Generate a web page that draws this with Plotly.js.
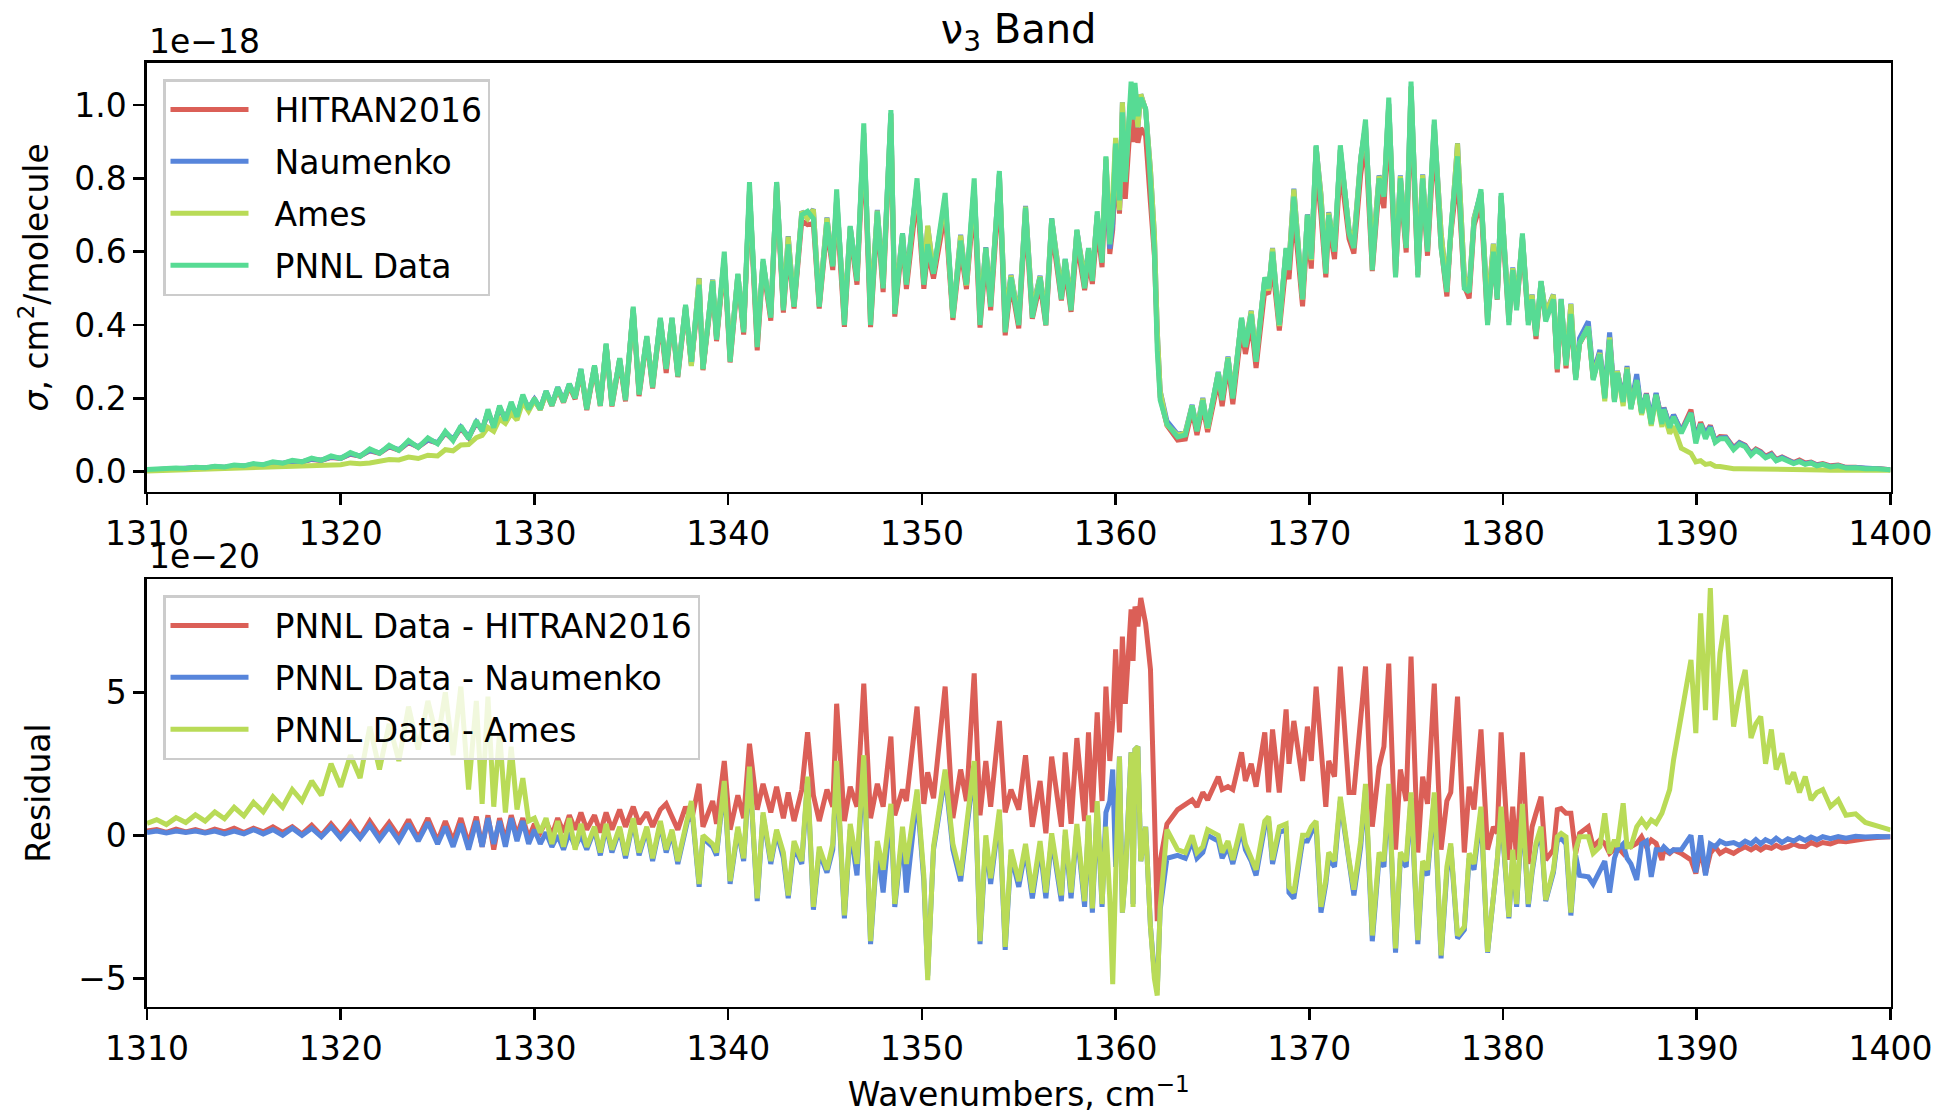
<!DOCTYPE html>
<html><head><meta charset="utf-8">
<script src="https://cdn.plot.ly/plotly-3.0.1.min.js"></script>
<style>html,body{margin:0;padding:0;background:#fff;}#chart{width:1944px;height:1114px;}</style>
</head><body><div id="chart"></div>
<script>
// Wavenumber grid (cm^-1), shared by all series
const wavenumber = [
1310,1310.5,1311,1311.5,1312,1312.5,1313,1313.5,1314,1314.5,1315,1315.5,1316,1316.5,1317,1317.5,1318,1318.5,1319,1319.5,1320,1320.5,1321,1321.5,1322,1322.5,1323,1323.5,1324,1324.5,1325,
1325.4,1325.8,1326.2,1326.6,1327.0,1327.3,1327.6,1327.9,1328.2,1328.5,1328.8,1329.1,1329.4,1329.7,1330.0,1330.3,1330.6,1330.9,1331.2,1331.5,1331.8,1332.1,1332.4,
1332.7,1333.1,1333.4,1333.7,1334.0,1334.4,1334.7,1335.1,1335.4,1335.8,1336.1,1336.5,1336.8,1337.1,1337.4,1337.8,1338.1,1338.5,1338.7,1339.2,1339.4,1339.8,1340.1,1340.5,1340.8,1341.1,1341.5,1341.8,1342.2,1342.5,1342.85,1343.1,1343.4,1343.8,1344.1,1344.4,1344.7,1345.1,1345.4,1345.6,1346.0,1346.3,1346.65,1347.0,1347.35,1347.7,1348.0,1348.4,1348.6,1349.0,1349.2,1349.75,1350.1,1350.3,1350.6,1351.2,1351.6,1352.0,1352.3,1352.7,1353.0,1353.3,1353.55,1354.0,1354.3,1354.6,1355.0,
1355.35,1355.7,1356.1,1356.4,1356.7,1357.2,1357.4,1357.7,1358.0,1358.4,1358.6,1358.8,1359.05,1359.3,1359.5,1359.7,1359.85,1360.0,1360.2,1360.35,1360.5,1360.8,1360.9,1361.0,1361.15,1361.3,1361.55,1361.8,1362.0,1362.15,1362.3,1362.65,
1363.2,1363.6,1363.95,1364.2,1364.5,1364.75,1365.3,1365.5,1365.8,1366.05,1366.5,1366.7,1367.0,1367.25,1367.7,1367.9,1368.1,1368.45,1368.8,1368.95,1369.2,1369.65,1369.9,1370.1,1370.35,1370.6,1370.85,1371.0,1371.3,1371.6,1372.05,1372.3,1372.65,1372.9,1373.25,1373.6,1373.85,1374.1,1374.45,1374.7,1375.0,1375.25,1375.6,1375.85,1376.1,1376.45,1376.8,1377.1,
1377.3,1377.65,1378.0,1378.25,1378.5,1378.86,1379.2,1379.5,1379.7,1379.9,1380.3,1380.5,1380.7,1381.0,1381.3,1381.5,1381.7,1381.96,1382.2,1382.6,1382.8,1383.0,1383.25,1383.5,1383.75,1383.95,1384.4,1384.65,1385.0,1385.25,1385.5,1385.75,1385.9,1386.2,1386.4,1386.6,1386.9,1387.15,1387.4,1387.65,1387.9,1388.2,1388.3,1388.6,1388.8,1389.2,1389.7,1389.95,1390.2,1390.45,1390.7,1390.95,1391.2,1391.5,
1391.9,1392.2,1392.5,1392.8,1393.05,1393.3,1393.55,1393.85,1394.1,1394.4,1394.7,1395.0,1395.3,1395.6,1395.9,1396.2,1396.5,1396.9,1397.3,1397.7,1398.2,1398.7,1399.3,1400.0
];

// Cross sections, units of 1e-18 cm^2/molecule
const hitranTop = [
0.0045,0.006,0.006,0.0078,0.0078,0.01,0.01,0.0128,0.0118,0.0155,0.015,0.0195,0.0178,0.024,0.022,0.028,0.0265,0.0335,0.031,0.039,0.036,0.0475,0.0425,0.057,0.05,0.0675,0.0585,0.0795,0.067,0.086,0.078,
0.105,0.087,0.119,0.093,0.1335,0.114,0.163,0.125,0.174,0.142,0.183,0.15,0.204,0.171,0.196,0.169,0.215,0.18,0.224,0.189,0.233,0.198,0.272,
0.168,0.283,0.179,0.342,0.178,0.301,0.192,0.44,0.206,0.362,0.227,0.411,0.269,0.414,0.258,0.445,0.295,0.492,0.277,0.508,0.356,0.574,0.298,0.526,0.374,0.758,0.331,0.562,0.412,0.773,0.434,0.605,0.445,0.684,0.674,0.676,0.445,0.664,0.55,0.724,0.395,0.653,0.51,0.897,0.394,0.692,0.49,0.952,0.423,0.634,0.498,0.755,0.499,0.598,0.527,0.708,0.414,0.607,0.498,0.743,0.393,0.584,0.44,0.78,0.372,0.514,0.391,
0.692,0.417,0.511,0.399,0.663,0.467,0.551,0.436,0.626,0.495,0.574,0.512,0.667,0.558,0.808,0.594,0.66,0.83,0.704,0.911,0.744,0.985,0.899,0.98,0.897,0.937,0.916,0.732,0.591,0.36,0.204,0.126,
0.086,0.089,0.168,0.10,0.18,0.108,0.25,0.179,0.293,0.184,0.391,0.321,0.405,0.283,0.494,0.485,0.563,0.385,0.566,0.525,0.71,0.451,0.662,0.554,0.838,0.699,0.53,0.674,0.58,0.831,0.635,0.595,0.81,0.901,0.547,0.776,0.719,0.96,0.535,0.777,0.598,1.0,0.536,0.78,0.589,0.907,0.615,0.478,
0.645,0.812,0.506,0.473,0.671,0.733,0.405,0.597,0.469,0.724,0.409,0.54,0.449,0.621,0.41,0.467,0.362,0.507,0.419,0.475,0.271,0.461,0.282,0.422,0.256,0.349,0.392,0.254,0.322,0.203,0.366,0.195,0.274,0.196,0.283,0.174,0.253,0.16,0.214,0.132,0.213,0.139,0.175,0.126,0.155,0.111,0.169,0.09,0.135,0.103,0.126,0.084,0.096,0.095,
0.066,0.08,0.072,0.05,0.062,0.055,0.042,0.05,0.034,0.04,0.034,0.025,0.032,0.024,0.026,0.019,0.022,0.016,0.018,0.012,0.0125,0.009,0.009,0.0055
];

const naumenkoTop = [
0.005,0.0065,0.0062,0.0085,0.008,0.0105,0.0102,0.0135,0.0125,0.0165,0.0155,0.02,0.0185,0.025,0.023,0.0285,0.027,0.0345,0.0315,0.04,0.037,0.049,0.043,0.0585,0.0515,0.069,0.06,0.081,0.068,0.0875,0.079,
0.107,0.089,0.121,0.095,0.135,0.114,0.164,0.123,0.175,0.144,0.184,0.152,0.205,0.173,0.198,0.173,0.219,0.184,0.23,0.195,0.239,0.204,0.28,
0.175,0.288,0.187,0.347,0.186,0.308,0.203,0.445,0.217,0.368,0.239,0.416,0.286,0.419,0.27,0.452,0.289,0.528,0.281,0.524,0.367,0.582,0.317,0.538,0.389,0.767,0.363,0.573,0.43,0.789,0.448,0.642,0.454,0.71,0.691,0.716,0.456,0.693,0.565,0.746,0.429,0.668,0.534,0.924,0.438,0.714,0.52,0.977,0.455,0.65,0.53,0.786,0.526,0.669,0.545,0.739,0.425,0.646,0.51,0.776,0.438,0.612,0.467,0.813,0.42,0.537,0.418,
0.725,0.442,0.534,0.422,0.691,0.493,0.58,0.462,0.658,0.525,0.605,0.547,0.70,0.595,0.852,0.608,0.677,0.906,0.713,1.007,0.804,1.035,0.984,1.03,0.939,1.029,0.987,0.822,0.648,0.384,0.221,0.138,
0.102,0.108,0.182,0.118,0.201,0.12,0.272,0.203,0.314,0.21,0.418,0.345,0.439,0.314,0.527,0.495,0.61,0.399,0.608,0.57,0.772,0.472,0.702,0.579,0.887,0.757,0.557,0.708,0.611,0.878,0.66,0.631,0.854,0.944,0.587,0.808,0.761,1.004,0.571,0.808,0.621,1.051,0.568,0.811,0.614,0.947,0.653,0.503,
0.664,0.896,0.533,0.498,0.692,0.762,0.441,0.622,0.479,0.752,0.429,0.557,0.465,0.641,0.425,0.483,0.374,0.519,0.433,0.483,0.282,0.471,0.293,0.458,0.257,0.364,0.41,0.267,0.332,0.209,0.38,0.198,0.275,0.193,0.288,0.18,0.266,0.163,0.212,0.145,0.215,0.135,0.174,0.126,0.155,0.11,0.16,0.09,0.13,0.104,0.123,0.084,0.092,0.093,
0.0625,0.0785,0.07,0.048,0.0595,0.053,0.0395,0.0475,0.031,0.0385,0.031,0.024,0.0288,0.0218,0.0246,0.0175,0.0205,0.0142,0.0164,0.011,0.0113,0.0086,0.0084,0.0055
];

const amesTop = [
0.002,0.003,0.003,0.004,0.005,0.005,0.006,0.007,0.007,0.008,0.009,0.011,0.011,0.014,0.013,0.015,0.015,0.018,0.017,0.018,0.019,0.024,0.022,0.024,0.027,0.033,0.032,0.040,0.036,0.045,0.043,
0.06,0.057,0.073,0.074,0.093,0.099,0.121,0.11,0.144,0.132,0.159,0.141,0.19,0.165,0.194,0.169,0.214,0.183,0.225,0.194,0.234,0.205,0.276,
0.174,0.287,0.186,0.346,0.185,0.307,0.202,0.444,0.216,0.367,0.238,0.415,0.285,0.418,0.269,0.451,0.288,0.527,0.28,0.523,0.366,0.581,0.316,0.537,0.388,0.766,0.362,0.572,0.429,0.788,0.446,0.641,0.452,0.709,0.69,0.715,0.454,0.692,0.563,0.744,0.428,0.666,0.53,0.922,0.437,0.712,0.512,0.975,0.454,0.647,0.52,0.784,0.524,0.671,0.544,0.737,0.423,0.644,0.508,0.774,0.437,0.61,0.465,0.811,0.419,0.535,0.416,
0.723,0.44,0.532,0.42,0.689,0.491,0.578,0.46,0.656,0.523,0.603,0.546,0.698,0.594,0.857,0.642,0.752,0.91,0.713,1.007,0.805,1.035,0.985,1.03,0.939,1.029,0.987,0.822,0.65,0.386,0.22,0.128,
0.1,0.106,0.18,0.116,0.199,0.118,0.27,0.201,0.312,0.209,0.416,0.343,0.438,0.312,0.525,0.494,0.609,0.397,0.606,0.568,0.77,0.47,0.70,0.577,0.885,0.755,0.556,0.706,0.609,0.877,0.659,0.629,0.852,0.942,0.585,0.806,0.759,1.002,0.57,0.806,0.619,1.049,0.567,0.809,0.612,0.945,0.652,0.501,
0.663,0.895,0.532,0.496,0.69,0.76,0.441,0.621,0.479,0.75,0.428,0.555,0.464,0.639,0.424,0.482,0.373,0.517,0.433,0.482,0.28,0.469,0.29,0.457,0.255,0.35,0.395,0.256,0.324,0.192,0.366,0.192,0.274,0.179,0.284,0.174,0.247,0.155,0.207,0.125,0.206,0.122,0.16,0.104,0.124,0.064,0.05,0.027,0.03,0.02,0.022,0.015,0.014,0.01,
0.008,0.008,0.008,0.007,0.007,0.007,0.007,0.006,0.006,0.006,0.006,0.005,0.005,0.005,0.005,0.005,0.005,0.004,0.004,0.004,0.004,0.004,0.004,0.004
];

const pnnlTop = [
0.006,0.008,0.007,0.010,0.009,0.012,0.011,0.015,0.013,0.018,0.016,0.022,0.019,0.027,0.023,0.031,0.027,0.037,0.031,0.043,0.036,0.052,0.042,0.062,0.050,0.072,0.058,0.085,0.066,0.092,0.076,
0.11,0.085,0.125,0.09,0.14,0.11,0.17,0.12,0.18,0.14,0.19,0.15,0.21,0.17,0.20,0.17,0.22,0.18,0.23,0.19,0.24,0.20,0.28,
0.17,0.29,0.18,0.35,0.18,0.31,0.195,0.45,0.21,0.37,0.23,0.42,0.28,0.42,0.26,0.455,0.30,0.51,0.28,0.52,0.36,0.60,0.30,0.54,0.38,0.79,0.34,0.58,0.42,0.79,0.44,0.62,0.45,0.70,0.71,0.69,0.45,0.68,0.56,0.77,0.40,0.67,0.52,0.95,0.40,0.71,0.50,0.986,0.43,0.65,0.51,0.80,0.51,0.62,0.54,0.76,0.42,0.63,0.51,0.80,0.40,0.61,0.45,0.82,0.38,0.53,0.40,
0.72,0.42,0.53,0.40,0.69,0.47,0.58,0.44,0.66,0.50,0.61,0.52,0.71,0.57,0.86,0.62,0.70,0.895,0.74,0.98,0.79,1.064,0.96,1.06,0.97,1.02,0.99,0.79,0.60,0.33,0.195,0.13,
0.095,0.10,0.18,0.11,0.195,0.12,0.27,0.195,0.31,0.20,0.42,0.34,0.43,0.30,0.53,0.50,0.60,0.40,0.61,0.55,0.75,0.47,0.70,0.58,0.89,0.73,0.54,0.70,0.60,0.89,0.65,0.61,0.85,0.96,0.55,0.80,0.75,1.02,0.53,0.80,0.61,1.064,0.53,0.80,0.60,0.96,0.61,0.49,
0.66,0.86,0.50,0.49,0.68,0.77,0.40,0.60,0.47,0.76,0.40,0.55,0.44,0.65,0.40,0.47,0.37,0.52,0.41,0.47,0.28,0.47,0.29,0.43,0.25,0.35,0.395,0.25,0.32,0.20,0.36,0.19,0.27,0.19,0.28,0.17,0.25,0.16,0.21,0.13,0.21,0.13,0.17,0.12,0.15,0.105,0.16,0.077,0.13,0.09,0.12,0.08,0.09,0.09,
0.06,0.075,0.068,0.045,0.058,0.05,0.038,0.045,0.03,0.036,0.03,0.022,0.028,0.02,0.024,0.016,0.02,0.013,0.016,0.01,0.011,0.008,0.008,0.005
];

// Residuals, units of 1e-20 cm^2/molecule
const resHitran = [
0.15,0.2,0.1,0.22,0.12,0.2,0.1,0.22,0.12,0.25,0.1,0.25,0.12,0.3,0.1,0.3,0.05,0.35,0.0,0.4,0.0,0.45,-0.05,0.5,0.0,0.45,-0.05,0.55,-0.1,0.6,-0.2,
0.5,-0.2,0.6,-0.3,0.65,-0.4,0.7,-0.5,0.6,-0.2,0.7,0.0,0.6,-0.1,0.4,0.1,0.5,0.0,0.6,0.1,0.7,0.2,0.8,
0.2,0.7,0.1,0.8,0.2,0.9,0.3,1.0,0.4,0.8,0.3,0.9,1.1,0.6,0.2,1.0,0.5,1.8,0.3,1.2,0.4,2.6,0.2,1.4,0.6,3.2,0.9,1.8,0.8,1.7,0.6,1.5,0.5,1.6,3.6,1.4,0.5,1.6,1.0,4.6,0.5,1.7,1.0,5.3,0.6,1.8,1.0,3.45,0.7,1.6,1.2,4.5,1.1,2.2,1.3,5.2,0.6,2.3,1.2,5.66,0.7,2.6,1.0,4.0,0.8,1.6,0.9,
2.8,0.3,1.9,0.07,2.75,0.3,2.9,0.4,3.4,0.5,3.6,0.8,4.3,1.2,5.2,2.6,4.0,6.5,3.6,6.95,4.6,7.9,6.1,8.0,7.3,8.3,7.4,5.8,0.9,-3.0,-0.9,0.4,
0.9,1.1,1.24,1.0,1.5,1.24,2.05,1.6,1.7,1.6,2.9,1.9,2.5,1.7,3.6,1.5,3.7,1.5,4.4,2.5,4.0,1.9,3.8,2.6,5.2,3.1,1.0,2.6,2.05,5.9,1.5,1.5,4.0,5.9,0.3,2.4,3.1,6.0,-0.5,2.3,1.2,6.25,-0.6,2.05,1.1,5.3,-0.5,1.2,
1.5,4.85,-0.6,1.7,0.9,3.7,-0.5,0.3,0.07,3.6,-0.86,1.0,-0.86,2.9,-1.0,0.3,0.77,1.35,-0.86,-0.5,0.9,0.94,0.77,0.77,-0.63,0.07,0.3,-0.4,-0.16,-0.28,-0.63,-0.51,-0.4,-0.63,-0.28,-0.4,-0.28,-0.05,-0.4,-0.16,-0.28,-0.86,-0.51,-0.63,-0.51,-0.63,-0.86,-1.33,-0.51,-1.33,-0.63,-0.4,-0.63,-0.51,
-0.63,-0.5,-0.4,-0.51,-0.4,-0.51,-0.4,-0.45,-0.35,-0.45,-0.4,-0.3,-0.38,-0.4,-0.25,-0.34,-0.25,-0.3,-0.2,-0.22,-0.15,-0.12,-0.08,-0.05
];

const resNaumenko = [
0.1,0.15,0.08,0.15,0.1,0.15,0.08,0.15,0.05,0.15,0.05,0.2,0.05,0.2,0.0,0.25,0.0,0.25,-0.05,0.3,-0.1,0.3,-0.1,0.35,-0.15,0.3,-0.2,0.4,-0.2,0.45,-0.3,
0.3,-0.4,0.4,-0.5,0.5,-0.4,0.6,-0.3,0.5,-0.4,0.6,-0.2,0.5,-0.3,0.2,-0.3,0.1,-0.4,0.0,-0.5,0.1,-0.4,0.0,
-0.5,0.2,-0.7,0.3,-0.6,0.2,-0.8,0.5,-0.7,0.2,-0.9,0.4,-0.6,0.1,-1.0,0.3,1.1,-1.8,-0.1,-0.4,-0.7,1.8,-1.7,0.2,-0.9,2.3,-2.3,0.7,-1.0,0.1,-0.8,-2.2,-0.4,-1.0,1.9,-2.6,-0.6,-1.3,-0.5,2.4,-2.9,0.2,-1.4,2.6,-3.8,-0.4,-2.0,0.9,-2.5,0.0,-2.0,1.4,-1.6,-4.9,-0.5,2.1,-0.5,-1.6,0.0,2.4,-3.8,-0.2,-1.7,0.7,-4.0,-0.7,-1.8,
-0.5,-2.2,-0.4,-2.2,-0.1,-2.3,0.0,-2.2,0.2,-2.5,0.5,-2.7,1.0,-2.5,0.8,1.2,2.3,-1.1,2.75,-2.7,-1.4,2.9,-2.4,3.0,3.1,-0.9,0.3,-3.2,-4.8,-5.4,-2.6,-0.8,
-0.7,-0.8,-0.2,-0.8,-0.6,0.0,-0.2,-0.8,-0.4,-1.0,0.2,-0.5,-0.9,-1.4,0.3,0.5,-1.0,0.1,0.2,-2.0,-2.2,-0.2,-0.2,0.1,0.3,-2.7,-1.7,-0.8,-1.1,1.2,-1.0,-2.1,-0.4,1.6,-3.7,-0.8,-1.1,1.6,-4.1,-0.8,-1.1,1.3,-3.8,-1.1,-1.4,1.3,-4.3,-1.3,
-0.4,-3.6,-3.3,-0.8,-1.2,0.8,-4.1,-2.2,-0.9,0.8,-2.9,-0.7,-2.5,0.9,-2.5,-1.3,-0.4,0.1,-2.3,-1.3,-0.2,-0.1,-0.3,-2.8,-0.7,-1.4,-1.45,-1.7,-1.2,-0.9,-2.0,-0.8,-0.5,-0.3,-0.8,-1.0,-1.56,-0.3,-0.2,-1.45,-0.5,-0.5,-0.4,-0.6,-0.5,-0.5,0.0,-1.3,0.0,-1.4,-0.3,-0.4,-0.2,-0.3,
-0.25,-0.35,-0.2,-0.3,-0.15,-0.3,-0.15,-0.25,-0.1,-0.25,-0.12,-0.2,-0.08,-0.18,-0.06,-0.15,-0.05,-0.12,-0.04,-0.1,-0.03,-0.06,-0.04,-0.05
];

const resAmes = [
0.42,0.55,0.38,0.62,0.45,0.72,0.5,0.82,0.58,0.98,0.68,1.15,0.82,1.35,0.98,1.6,1.2,1.9,1.4,2.5,1.7,2.8,2.0,3.8,2.3,3.9,2.6,4.5,3.0,4.7,3.3,
5.0,2.8,5.2,1.6,4.7,1.1,4.85,1.0,3.6,0.8,3.1,0.9,2.0,0.5,0.6,0.1,0.6,-0.3,0.5,-0.4,0.6,-0.5,0.4,
-0.4,0.3,-0.6,0.4,-0.5,0.3,-0.7,0.6,-0.6,0.3,-0.8,0.5,-0.5,0.2,-0.9,0.4,1.2,-1.7,0.0,-0.3,-0.6,1.9,-1.6,0.3,-0.8,2.4,-2.2,0.8,-0.9,0.2,-0.6,-2.1,-0.2,-0.9,2.05,-2.5,-0.4,-1.2,-0.3,2.6,-2.8,0.4,-1.0,2.8,-3.7,-0.2,-1.2,1.1,-2.4,0.3,-1.0,1.6,-1.4,-5.06,-0.4,2.3,-0.3,-1.4,0.2,2.6,-3.7,0.0,-1.5,0.9,-3.9,-0.5,-1.6,
-0.3,-2.0,-0.2,-2.0,0.07,-2.1,0.2,-2.0,0.4,-2.3,0.7,-2.55,1.2,-2.4,0.3,-2.2,-5.2,-1.5,2.75,-2.7,-1.5,2.9,-2.5,3.0,3.1,-0.9,0.3,-3.2,-5.0,-5.6,-2.5,0.2,
-0.5,-0.6,0.0,-0.6,-0.4,0.2,0.0,-0.6,-0.2,-0.86,0.4,-0.3,-0.75,-1.2,0.5,0.65,-0.86,0.3,0.4,-1.8,-2.0,0.0,0.0,0.3,0.5,-2.5,-1.56,-0.6,-0.9,1.35,-0.86,-1.9,-0.2,1.8,-3.5,-0.6,-0.9,1.8,-3.95,-0.6,-0.9,1.5,-3.66,-0.9,-1.2,1.5,-4.2,-1.1,
-0.28,-3.5,-3.2,-0.63,-1.0,1.0,-4.07,-2.1,-0.86,1.0,-2.85,-0.5,-2.4,1.1,-2.4,-1.2,-0.28,0.3,-2.26,-1.2,-0.05,0.07,-0.05,-2.7,-0.5,-0.05,-0.05,-0.63,-0.4,0.77,-0.63,-0.16,-0.4,1.12,-0.4,-0.4,0.3,0.54,0.3,0.54,0.42,0.77,1.0,1.6,2.63,4.15,6.13,3.57,7.76,4.38,8.64,4.03,6.36,7.7,
3.8,5.0,5.78,3.4,3.9,4.15,2.5,3.7,2.3,2.87,1.8,2.2,1.5,2.05,1.24,1.5,1.6,1.0,1.24,0.7,0.75,0.45,0.35,0.19
];

const xTickVals = [1310,1320,1330,1340,1350,1360,1370,1380,1390,1400];
const topTickVals = [0.0,0.2,0.4,0.6,0.8,1.0];
const resTickVals = [-5,0,5];
const topNames = ['HITRAN2016','Naumenko','Ames','PNNL Data'];
const resNames = ['PNNL Data - HITRAN2016','PNNL Data - Naumenko','PNNL Data - Ames'];

const FONT = 'DejaVu Sans, sans-serif';
const C = {hitran:'#db5f57', naumenko:'#5785db', ames:'#b9db57', pnnl:'#57db94'};
const LW = 5;
const PAD = '\u00A0\u00A0'; // gap between legend line sample and its label

function tr(y, name, color, xa, ya, leg, grp){
  return {x: wavenumber, y: y, name: PAD + name, type:'scatter', mode:'lines',
    line:{color: color, width: LW}, xaxis: xa, yaxis: ya, legend: leg, legendgroup: grp,
    hoverinfo:'skip'};
}
const data = [
  tr(hitranTop, topNames[0], C.hitran, 'x', 'y', 'legend', 'g1'),
  tr(naumenkoTop, topNames[1], C.naumenko, 'x', 'y', 'legend', 'g2'),
  tr(amesTop, topNames[2], C.ames, 'x', 'y', 'legend', 'g3'),
  tr(pnnlTop, topNames[3], C.pnnl, 'x', 'y', 'legend', 'g4'),
  tr(resHitran, resNames[0], C.hitran, 'x2', 'y2', 'legend2', 'h1'),
  tr(resNaumenko, resNames[1], C.naumenko, 'x2', 'y2', 'legend2', 'h2'),
  tr(resAmes, resNames[2], C.ames, 'x2', 'y2', 'legend2', 'h3')
];

const axisCommon = {
  showline:true, mirror:true, linecolor:'#000', linewidth:2.6,
  ticks:'outside', ticklen:11, tickwidth:2.6, tickcolor:'#000',
  tickfont:{family:FONT, size:33, color:'#000'},
  showgrid:false, zeroline:false, fixedrange:true
};
const XD = [147/1944, 1890.5/1944];
const legendCommon = {
  xanchor:'left', yanchor:'top', bgcolor:'rgba(255,255,255,0.8)',
  bordercolor:'#cccccc', borderwidth:2.5,
  font:{family:FONT, size:33, color:'#000'}, tracegroupgap:6, itemwidth:78
};

const layout = {
  width:1944, height:1114, margin:{l:0,r:0,t:0,b:0},
  paper_bgcolor:'#fff', plot_bgcolor:'#fff',
  font:{family:FONT, size:33, color:'#000'},
  showlegend:true,
  title:{text:'ν<sub>3</sub> Band', font:{family:FONT, size:40, color:'#000'},
         xref:'paper', x:0.524, xanchor:'center', yref:'container', y:1-29/1114, yanchor:'middle'},
  xaxis: Object.assign({}, axisCommon, {domain:XD, anchor:'y', range:[1310,1400], tickvals:xTickVals}),
  yaxis: Object.assign({}, axisCommon, {domain:[1-491.7/1114, 1-63/1114], anchor:'x',
         range:[-0.0545,1.1145], tickvals:topTickVals, tickformat:'.1f',
         title:{text:'<i>σ</i>, cm<sup>2</sup>/molecule', font:{family:FONT,size:33,color:'#000'}, standoff:16}}),
  xaxis2: Object.assign({}, axisCommon, {domain:XD, anchor:'y2', range:[1310,1400], tickvals:xTickVals,
         title:{text:'Wavenumbers, cm<sup>−1</sup>', font:{family:FONT,size:33,color:'#000'}, standoff:17}}),
  yaxis2: Object.assign({}, axisCommon, {domain:[1-1006.7/1114, 1-579.3/1114], anchor:'x2',
         range:[-5.99,8.95], tickvals:resTickVals,
         title:{text:'Residual', font:{family:FONT,size:33,color:'#000'}, standoff:18}}),
  legend: Object.assign({}, legendCommon, {x:163/1944, y:1-79/1114}),
  legend2: Object.assign({}, legendCommon, {x:163/1944, y:1-595/1114}),
  annotations:[
    {text:'1e−18', xref:'paper', yref:'paper', x:147/1944, y:1-41/1114, xanchor:'left', yanchor:'middle',
     showarrow:false, font:{family:FONT,size:33,color:'#000'}},
    {text:'1e−20', xref:'paper', yref:'paper', x:147/1944, y:1-556/1114, xanchor:'left', yanchor:'middle',
     showarrow:false, font:{family:FONT,size:33,color:'#000'}}
  ]
};

Plotly.newPlot('chart', data, layout, {displayModeBar:false, staticPlot:true});
</script>
</body></html>
